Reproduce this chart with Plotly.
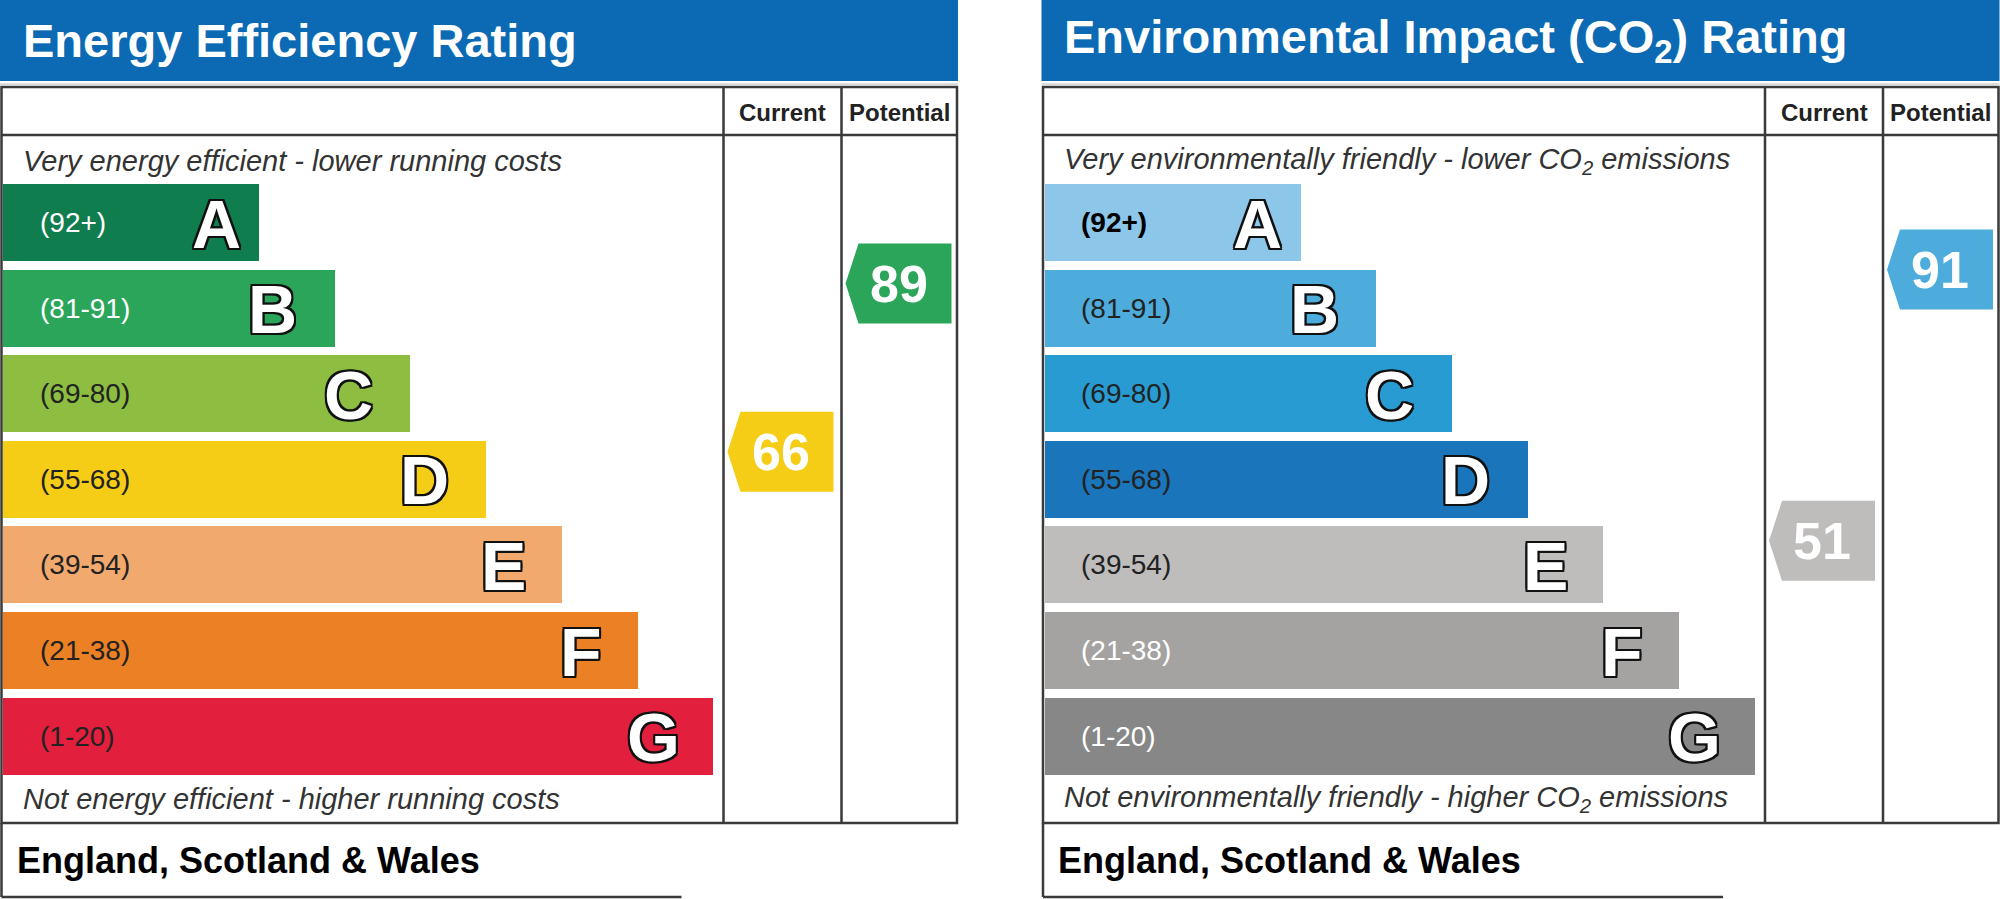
import plotly.graph_objects as go

# EPC bands, top (most efficient) to bottom
bands = ['A', 'B', 'C', 'D', 'E', 'F', 'G']
band_labels = ['(92+)', '(81-91)', '(69-80)', '(55-68)', '(39-54)', '(21-38)', '(1-20)']
band_low = [92, 81, 69, 55, 39, 21, 1]
band_high = [100, 91, 80, 68, 54, 38, 20]

# ratings
energy_current = 66
energy_potential = 89
co2_current = 51
co2_potential = 91

# colours
energy_colors = ['#107d4f', '#2aa55a', '#8dbd41', '#f5cd17', '#f2a96e', '#ec8025', '#e21f3c']
co2_colors = ['#8cc6e9', '#4dacdc', '#289bd2', '#1a75ba', '#bebdbc', '#a4a3a2', '#878787']
energy_label_colors = ['white', 'white', '#222222', '#222222', '#222222', '#222222', '#222222']
co2_label_colors = ['black', '#222222', '#222222', '#222222', '#222222', 'white', 'white']
header_blue = '#0b6ab3'
border = '#3a3a3a'

# layout in pixels
W, H = 2000, 899
BAND_TOP = 184
PITCH = 85.6
BAR_H = 77
BAR_W0 = 256
BAR_STEP = 75.7
LETTER_INSET = [43, 62, 62, 62, 58, 57, 60]
FONT = 'Liberation Sans, Arial, sans-serif'
OUTLINE = ', '.join(f'{dx}px {dy}px 0 #111' for dx, dy in
                    [(-2, -2), (2, -2), (-2, 2), (2, 2), (0, 2), (2, 0), (0, -2), (-2, 0)])

fig = go.Figure()


def band_center(i):
    return BAND_TOP + BAR_H / 2 + PITCH * i


def rating_y(value):
    # vertical position of an arrow inside its band
    for i in range(len(bands)):
        if band_low[i] <= value <= band_high[i]:
            frac = (band_high[i] - value) / (band_high[i] - band_low[i] + 1)
            return BAND_TOP + PITCH * i + frac * BAR_H, i
    return band_center(6), 6


def add_arrow(col_x, value, colors):
    cy, i = rating_y(value)
    tip, corner, right = col_x + 4, col_x + 17, col_x + 110
    fig.add_trace(go.Scatter(
        x=[tip, corner, right, right, corner, tip],
        y=[cy, cy - 40, cy - 40, cy + 40, cy + 40, cy],
        fill='toself', fillcolor=colors[i], mode='lines', line=dict(width=0),
        hoverinfo='skip', showlegend=False))
    fig.add_annotation(x=(tip + right) / 2, y=cy, text=str(value), showarrow=False,
                       xanchor='center', yanchor='middle',
                       font=dict(family=FONT, size=52, color='white', weight='bold'))


def add_panel(x0, title, top_text, bottom_text, colors, label_colors, current, potential):
    right = x0 + 955.5
    col1, col2 = x0 + 722, x0 + 840
    # blue title band
    fig.add_shape(type='rect', x0=x0 - 1.5, x1=x0 + 956.5, y0=0, y1=81,
                  fillcolor=header_blue, line=dict(width=0), layer='below')
    fig.add_shape(type='line', x0=x0 - 1.5, x1=x0 + 956.5, y0=84, y1=84,
                  line=dict(color='#b8b8b8', width=1))
    fig.add_annotation(x=x0 + 19, y=40, text=title, showarrow=False, xanchor='left', yanchor='middle',
                       font=dict(family=FONT, size=47, color='white', weight='bold'))
    # table frame
    fig.add_shape(type='rect', x0=x0, x1=right, y0=87, y1=823, line=dict(color=border, width=2.5))
    fig.add_shape(type='line', x0=x0, x1=right, y0=135, y1=135, line=dict(color=border, width=2.5))
    for cx in (col1, col2):
        fig.add_shape(type='line', x0=cx, x1=cx, y0=87, y1=823, line=dict(color=border, width=2.5))
    fig.add_shape(type='line', x0=x0, x1=x0, y0=823, y1=897, line=dict(color=border, width=2.5))
    fig.add_shape(type='line', x0=x0, x1=x0 + 680, y0=897, y1=897, line=dict(color=border, width=2.5))
    for cx, txt in ((col1, 'Current'), (col2, 'Potential')):
        fig.add_annotation(x=(cx + (col2 if cx == col1 else right)) / 2, y=112, text=txt,
                           showarrow=False, xanchor='center', yanchor='middle',
                           font=dict(family=FONT, size=24, color='#222222', weight='bold'))
    fig.add_annotation(x=x0 + 19, y=161, text=top_text, showarrow=False, xanchor='left',
                       yanchor='middle', font=dict(family=FONT, size=29, color='#333333', style='italic'))
    fig.add_annotation(x=x0 + 19, y=799, text=bottom_text, showarrow=False, xanchor='left',
                       yanchor='middle', font=dict(family=FONT, size=29, color='#333333', style='italic'))
    fig.add_annotation(x=x0 + 13, y=860, text='England, Scotland & Wales', showarrow=False,
                       xanchor='left', yanchor='middle',
                       font=dict(family=FONT, size=36, color='black', weight='bold'))
    # bands
    widths = [BAR_W0 + BAR_STEP * i for i in range(len(bands))]
    centers = [band_center(i) for i in range(len(bands))]
    fig.add_trace(go.Bar(orientation='h', y=centers, x=widths, base=x0 + 1.5, width=BAR_H,
                         marker=dict(color=colors, line=dict(width=0)),
                         hoverinfo='skip', showlegend=False))
    for i, letter in enumerate(bands):
        bold = 'bold' if label_colors[i] == 'black' else 'normal'
        fig.add_annotation(x=x0 + 36, y=centers[i], text=band_labels[i], showarrow=False,
                           xanchor='left', yanchor='middle',
                           font=dict(family=FONT, size=28, color=label_colors[i], weight=bold))
        fig.add_annotation(x=x0 + 1.5 + widths[i] - LETTER_INSET[i], y=centers[i] + 1, text=letter,
                           showarrow=False, xanchor='center', yanchor='middle',
                           font=dict(family=FONT, size=68, color='white', weight='bold', shadow=OUTLINE))
    add_arrow(col1, current, colors)
    add_arrow(col2, potential, colors)


add_panel(1.5, 'Energy Efficiency Rating',
          'Very energy efficient - lower running costs',
          'Not energy efficient - higher running costs',
          energy_colors, energy_label_colors, energy_current, energy_potential)
add_panel(1043, 'Environmental Impact (CO<sub>2</sub>) Rating',
          'Very environmentally friendly - lower CO<sub>2</sub> emissions',
          'Not environmentally friendly - higher CO<sub>2</sub> emissions',
          co2_colors, co2_label_colors, co2_current, co2_potential)

fig.update_layout(
    width=W, height=H, margin=dict(l=0, r=0, t=0, b=0),
    paper_bgcolor='white', plot_bgcolor='white', barmode='overlay', bargap=0,
    xaxis=dict(range=[0, W], visible=False, fixedrange=True),
    yaxis=dict(range=[H, 0], visible=False, fixedrange=True),
)

fig.write_html('out.html', config={'displayModeBar': False},
               post_script="document.body.style.margin='0px'; document.body.style.overflow='hidden';")
